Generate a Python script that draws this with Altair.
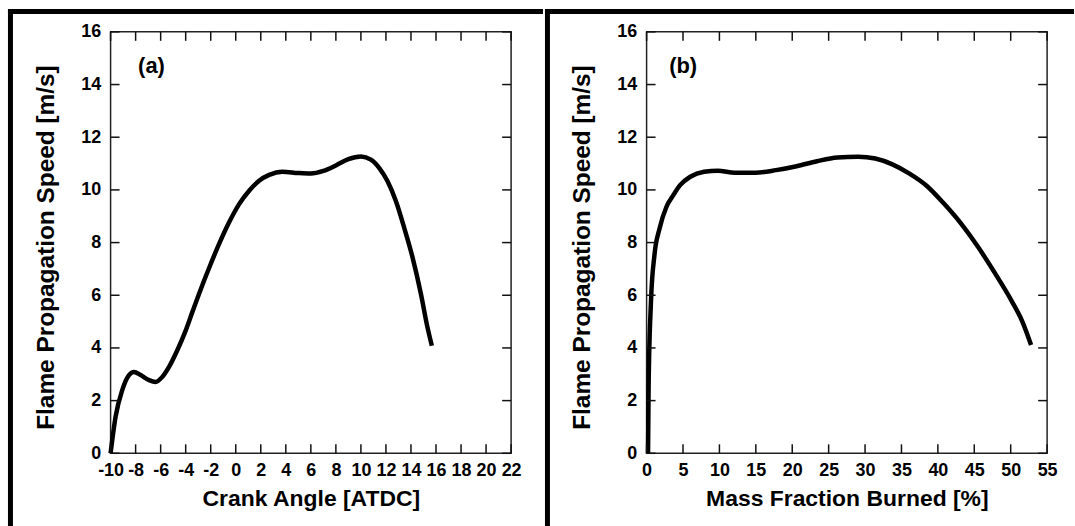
import altair as alt
import pandas as pd

# ---------------- data ----------------
# Panel (a): flame speed vs crank angle
crank_angle = [-10.0, -9.6, -9.07, -8.53, -8.13, -7.6, -6.93, -6.4, -5.87, -5.33,
               -4.67, -4.05, -3.47, -2.93, -2.05, -1.33, -0.53, 0.27, 1.07, 1.87,
               2.67, 3.73, 5.0, 6.0, 7.0, 8.0, 9.0, 10.0, 10.8, 11.47,
               12.13, 12.8, 13.46, 14.13, 14.8, 15.32, 15.67]
speed_a = [0.0, 1.39, 2.4, 2.97, 3.09, 2.97, 2.78, 2.71, 2.9, 3.28,
           3.91, 4.6, 5.36, 6.06, 7.13, 7.95, 8.77, 9.46, 9.97, 10.35,
           10.57, 10.69, 10.64, 10.62, 10.72, 10.93, 11.17, 11.27, 11.15, 10.83,
           10.33, 9.57, 8.56, 7.43, 6.04, 4.78, 4.08]

# Panel (b): flame speed vs mass fraction burned
mfb = [0.2, 0.28, 0.6, 1.08, 1.79, 2.73, 3.67, 4.6, 6.0, 7.9,
       9.78, 12.13, 14.95, 17.77, 20.6, 23.4, 26.2, 29.05, 31.4, 33.75,
       36.1, 38.45, 40.8, 43.16, 45.5, 47.86, 50.2, 51.6, 52.8]
speed_b = [0.0, 2.6, 5.75, 7.53, 8.54, 9.36, 9.8, 10.18, 10.5, 10.69,
           10.73, 10.65, 10.65, 10.75, 10.9, 11.09, 11.23, 11.26, 11.19, 10.97,
           10.62, 10.16, 9.49, 8.73, 7.84, 6.83, 5.75, 5.0, 4.11]

x_ticks_a = [-10, -8, -6, -4, -2, 0, 2, 4, 6, 8, 10, 12, 14, 16, 18, 20, 22]
x_ticks_b = [0, 5, 10, 15, 20, 25, 30, 35, 40, 45, 50, 55]
y_ticks = [0, 2, 4, 6, 8, 10, 12, 14, 16]

panel_labels = ["(a)", "(b)"]
label_x = [-7.8, 3.1]
label_y = [14.7, 14.7]

x_titles = ["Crank Angle [ATDC]", "Mass Fraction Burned [%]"]
y_title = "Flame Propagation Speed [m/s]"

W, H = 402, 423
FONT = "Liberation Sans"


def make_panel(xs, ys, xdomain, xticks, xtitle, label, lx, ly, frame_rects):
    xscale = alt.Scale(domain=xdomain, nice=False, zero=False)
    yscale = alt.Scale(domain=[0, 16], nice=False)
    xaxis = alt.Axis(values=xticks, title=xtitle, labelFontSize=18, labelFontWeight="bold",
                     titleFontSize=23, titleFontWeight="bold", ticks=False, tickSize=0,
                     domain=False, grid=False, labelPadding=8, titlePadding=8,
                     labelColor="black", titleColor="black", labelFlush=False,
                     labelOverlap=False, labelExpr="'' + datum.value")
    yaxis = alt.Axis(values=y_ticks, title=y_title, labelFontSize=18, labelFontWeight="bold",
                     titleFontSize=24.5, titleFontWeight="bold", ticks=False, tickSize=0,
                     domain=False, grid=False, labelPadding=10, titlePadding=22,
                     titleY=H / 2 + 4.5,
                     labelColor="black", titleColor="black", labelFlush=False,
                     labelOverlap=False, labelExpr="'' + datum.value")
    df = pd.DataFrame({"x": xs, "y": ys})

    line = alt.Chart(df).mark_line(color="black", strokeWidth=4.5, interpolate="monotone").encode(
        x=alt.X("x:Q", scale=xscale, axis=xaxis),
        y=alt.Y("y:Q", scale=yscale, axis=yaxis),
    )

    xt = pd.DataFrame({"t": xticks})
    yt = pd.DataFrame({"t": y_ticks})
    tick_style = dict(color="#111", strokeWidth=1.5)
    xb = alt.Chart(xt).mark_rule(**tick_style).encode(
        x=alt.X("t:Q", scale=xscale, axis=xaxis), y=alt.value(H), y2=alt.value(H - 9))
    xtop = alt.Chart(xt).mark_rule(**tick_style).encode(
        x=alt.X("t:Q", scale=xscale, axis=xaxis), y=alt.value(0), y2=alt.value(9))
    yl = alt.Chart(yt).mark_rule(**tick_style).encode(
        y=alt.Y("t:Q", scale=yscale, axis=yaxis), x=alt.value(0), x2=alt.value(9))
    yr = alt.Chart(yt).mark_rule(**tick_style).encode(
        y=alt.Y("t:Q", scale=yscale, axis=yaxis), x=alt.value(W - 9), x2=alt.value(W))

    lab = alt.Chart(pd.DataFrame({"x": [lx], "y": [ly], "label": [label]})).mark_text(
        align="left", baseline="middle", fontSize=22, fontWeight="bold", color="black", font=FONT
    ).encode(x=alt.X("x:Q", scale=xscale, axis=xaxis), y=alt.Y("y:Q", scale=yscale, axis=yaxis),
             text="label:N")

    one = pd.DataFrame({"k": [0]})
    frames = []
    for (x1, x2, y1, y2) in frame_rects:
        frames.append(alt.Chart(one).mark_rect(color="black").encode(
            x=alt.value(x1), x2=alt.value(x2), y=alt.value(y1), y2=alt.value(y2)))

    return alt.layer(line, xb, xtop, yl, yr, lab, *frames).properties(width=W, height=H)


panel_a = make_panel(crank_angle, speed_a, [-10, 22], x_ticks_a, x_titles[0],
                     panel_labels[0], label_x[0], label_y[0],
                     [(-103, -98, -23, 496), (-103, 434, -23, -18)])
panel_b = make_panel(mfb, speed_b, [0, 55], x_ticks_b, x_titles[1],
                     panel_labels[1], label_x[1], label_y[1],
                     [(-102, -97, -23, 496), (-102, 429, -23, -18)])

chart = alt.hconcat(panel_a, panel_b, spacing=0).properties(
    padding={"left": 7, "top": 7, "right": 0, "bottom": 0},
    background="white",
).configure(font=FONT).configure_view(stroke="#222", strokeWidth=1.5)

chart.save("out.html", embed_options={"renderer": "svg", "actions": False})
